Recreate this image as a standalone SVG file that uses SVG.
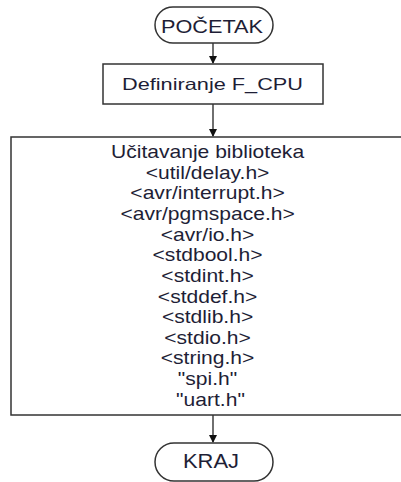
<svg xmlns="http://www.w3.org/2000/svg" width="401" height="482" viewBox="0 0 401 482">
<defs>
<style>
.s{fill:#fff;stroke:#333;stroke-width:1.5}
.t{font-family:"Liberation Sans",Arial,sans-serif;fill:#1e1e36;text-anchor:middle}
.c{stroke:#333;stroke-width:1.4;fill:none}
</style>
<marker id="ah" markerWidth="8" markerHeight="8" refX="7" refY="4" orient="auto" markerUnits="userSpaceOnUse">
<path d="M0,0 L8,4 L0,8 Z" fill="#111"/>
</marker>
</defs>
<rect width="401" height="482" fill="#fff"/>
<g id="connectors">
<line class="c" x1="213" y1="43" x2="213" y2="63" marker-end="url(#ah)"/>
<line class="c" x1="213" y1="104" x2="213" y2="136" marker-end="url(#ah)"/>
<line class="c" x1="213" y1="415" x2="213" y2="442" marker-end="url(#ah)"/>
</g>
<g id="start">
<rect class="s" x="155" y="7" width="118" height="36" rx="18"/>
<text class="t" x="212" y="32.5" font-size="18" textLength="102" lengthAdjust="spacingAndGlyphs">POČETAK</text>
</g>
<g id="define">
<rect class="s" x="103" y="64" width="220" height="40"/>
<text class="t" x="212.5" y="89.5" font-size="16.5" textLength="181" lengthAdjust="spacingAndGlyphs">Definiranje F_CPU</text>
</g>
<g id="libs">
<rect class="s" x="11" y="137" width="410" height="278"/>
<g transform="translate(210.5 0) scale(1.17 1)">
<text class="t" font-size="18">
<tspan x="0" y="158">Učitavanje biblioteka</tspan>
<tspan x="0" y="178.7">&lt;util/delay.h&gt;</tspan>
<tspan x="0" y="199.3">&lt;avr/interrupt.h&gt;</tspan>
<tspan x="0" y="220">&lt;avr/pgmspace.h&gt;</tspan>
<tspan x="0" y="240.6">&lt;avr/io.h&gt;</tspan>
<tspan x="0" y="261.3">&lt;stdbool.h&gt;</tspan>
<tspan x="0" y="281.9">&lt;stdint.h&gt;</tspan>
<tspan x="0" y="302.6">&lt;stddef.h&gt;</tspan>
<tspan x="0" y="323.2">&lt;stdlib.h&gt;</tspan>
<tspan x="0" y="343.9">&lt;stdio.h&gt;</tspan>
<tspan x="0" y="364.5">&lt;string.h&gt;</tspan>
<tspan x="0" y="385.2">"spi.h"</tspan>
<tspan x="0" y="405.8">"uart.h"</tspan>
</text>
</g>
</g>
<g id="end">
<rect class="s" x="155" y="443" width="118" height="38" rx="19"/>
<text class="t" x="211" y="468" font-size="20" textLength="56" lengthAdjust="spacingAndGlyphs">KRAJ</text>
</g>
</svg>
